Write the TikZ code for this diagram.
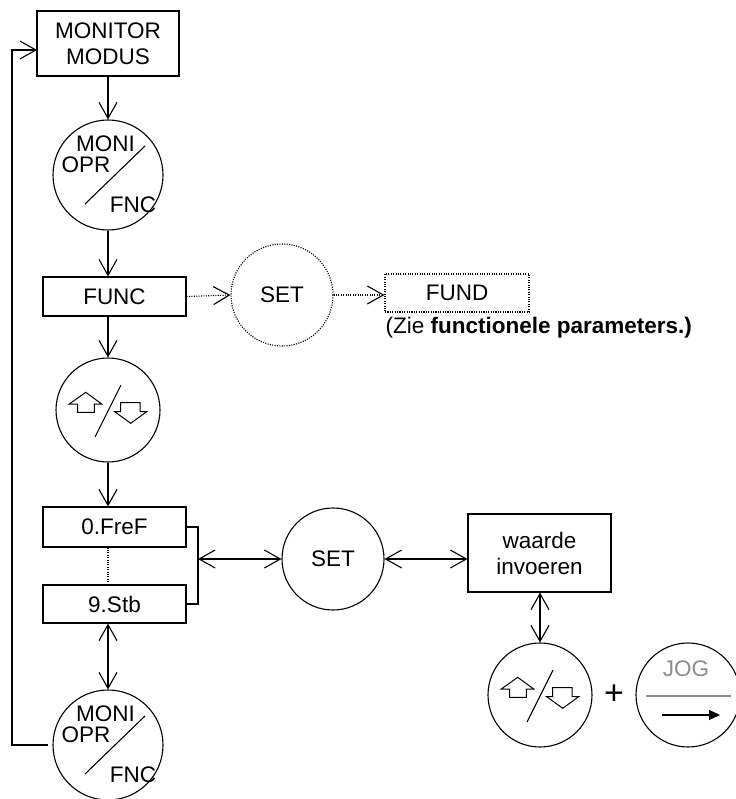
\documentclass[tikz,border=0pt]{standalone}
\usepackage{fontspec}
\setmainfont{Liberation Sans}
\usetikzlibrary{arrows.meta}
\begin{document}
\begin{tikzpicture}[x=1pt,y=-1pt,
  every node/.style={font=\fontsize{22.5}{26}\selectfont, inner sep=0pt},
  line width=1.1pt,
  tip/.style={arrows={-Straight Barb[length=16pt,width=18pt,line width=1.1pt]}},
  dtip/.style={arrows={Straight Barb[length=16pt,width=18pt,line width=1.1pt]-Straight Barb[length=16pt,width=18pt,line width=1.1pt]}},
  box/.style={draw, rectangle, align=center},
  knob/.style={draw, circle},
  dotline/.style={dash pattern=on 1.1pt off 1.3pt, line width=1.1pt},
]
\useasboundingbox (0,0) rectangle (735,799);

% boxes
\node[box, minimum width=142pt, minimum height=65pt] (mon) at (108,43.5) {MONITOR\\MODUS};
\node[box, minimum width=143pt, minimum height=39pt] (func) at (114.5,296.5) {FUNC};
\node[box, dotline, minimum width=144pt, minimum height=38pt] (fund) at (457,293) {FUND};
\node[box, minimum width=143pt, minimum height=40pt] (fref) at (114.5,527) {0.FreF};
\node[box, minimum width=143pt, minimum height=38pt] (stb) at (114.5,604) {9.Stb};
\node[box, minimum width=143pt, minimum height=78pt] (waarde) at (539.5,553) {waarde\\invoeren};
\node[anchor=base west] (zie) at (385,333) {(Zie \textbf{functionele parameters.)}};

% circles
\node[knob, minimum size=110pt] (c1) at (108,175) {};
\node[knob, dotline, minimum size=102pt] (set1) at (282,295) {SET};
\node[knob, minimum size=104pt] (c2) at (108,410) {};
\node[knob, minimum size=102pt] (set2) at (333,559) {SET};
\node[knob, minimum size=104pt] (c3) at (540,695) {};
\node[font=\fontsize{34}{36}\selectfont] (plus) at (614,695) {+};
\node[knob, minimum size=104pt] (jog) at (688,695) {};
\node[knob, minimum size=110pt] (c4) at (108,745) {};

% MONI / OPR / FNC labels
\foreach \c in {c1,c4}{
  \node at ([shift={(-2.5,-31)}]\c.center) {MONI};
  \node at ([shift={(-22,-10.5)}]\c.center) {OPR};
  \node at ([shift={(25,29.5)}]\c.center) {FNC};
  \draw ([shift={(-23,29)}]\c.center) -- ([shift={(37,-29)}]\c.center);
}

% up/down glyphs
\foreach \c in {c2,c3}{
  \draw[line width=1pt] ([shift={(-22.3,-17.7)}]\c.center) -- ++(16,11.7) -- ++(-7.4,0) -- ++(0,8.3) -- ++(-16.6,0) -- ++(0,-8.3) -- ++(-8.4,0) -- cycle;
  \draw[line width=1pt] ([shift={(22.7,13.3)}]\c.center) -- ++(16,-11.6) -- ++(-6.7,0) -- ++(0,-9) -- ++(-19.3,0) -- ++(0,9) -- ++(-6,0) -- cycle;
  \draw ([shift={(-13,27)}]\c.center) -- ([shift={(13,-25)}]\c.center);
}

% JOG key
\node[text=black!45] (jogt) at ([shift={(-2,-26)}]jog.center) {JOG};
\coordinate (jl) at ([shift={(-42,1)}]jog.center);
\coordinate (jr) at ([shift={(43,1)}]jog.center);
\draw[black!45] (jl) -- (jr);
\coordinate (al) at ([shift={(-26,20)}]jog.center);
\coordinate (ar) at ([shift={(32,20)}]jog.center);
\draw[-{Triangle[length=11pt,width=10pt]}] (al) -- (ar);

% connectors
\draw[tip] (mon.south -| c1.north) -- (c1.north);
\draw[tip] (c1.south) -- (c1.south |- func.north);
\draw[tip] (c2.north |- func.south) -- (c2.north);
\draw[tip] (c2.south) -- (c2.south |- fref.north);
\draw[dotline] (fref.south -| c2.south) -- (stb.north -| c2.south);
\draw[dtip] (c4.north |- stb.south) -- (c4.north);
\draw[dotline, tip] (func.east) -- (set1.west);
\draw[dotline, tip] (set1.east) -- (set1.east -| fund.west);

\coordinate (brx) at (198,0);
\draw (fref.east) -- (fref.east -| brx) -- (stb.east -| brx) -- (stb.east);
\draw[dtip] (set2.west -| brx) -- (set2.west);
\draw[dtip] (set2.east) -- (set2.east -| waarde.west);
\draw[dtip] (waarde.south -| c3.north) -- (c3.north);

% feedback loop
\coordinate (loopx) at (12,0);
\coordinate (monin) at (37,50);
\coordinate (loopstart) at ([xshift=-4pt]c4.west);
\draw[tip] (loopstart) -- (loopstart -| loopx) -- (monin -| loopx) -- (monin);
\end{tikzpicture}
\end{document}
